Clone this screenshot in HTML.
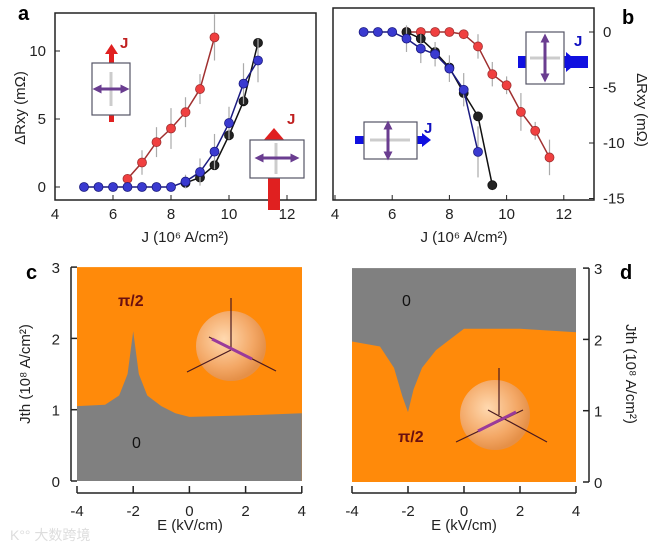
<!DOCTYPE html>
<html><head><meta charset="utf-8"><style>
body{margin:0;background:#fff;}
svg{display:block;font-family:"Liberation Sans","Noto Sans CJK SC",sans-serif;}
</style></head><body>
<svg id="fig" width="652" height="544" viewBox="0 0 652 544">
<defs>
<radialGradient id="sph" cx="0.4" cy="0.4" r="0.6">
<stop offset="0" stop-color="#ffd9b0"/><stop offset="0.7" stop-color="#f3a765"/><stop offset="1" stop-color="#e59048"/>
</radialGradient>
<marker id="ah" viewBox="0 0 10 10" refX="5" refY="5" markerWidth="3" markerHeight="3" orient="auto-start-reverse"><path d="M0,0 L10,5 L0,10z" fill="#6a3d90"/></marker>
</defs>
<g id="root"></g>
<text x="10" y="540" font-size="14" fill="#ddd">K°° 大数跨境</text>
</svg>
<script>
// ---- data ----
const aRedX=[6.5,7,7.5,8,8.5,9,9.5];
const aRedY=[0.6,1.8,3.3,4.3,5.5,7.2,11];
const aRedErr=[0.3,0.9,1.1,1.5,1.1,1.1,1.7];
const aBlueX=[5,5.5,6,6.5,7,7.5,8,8.5,9,9.5,10,10.5,11];
const aBlueY=[0,0,0,0,0,0,0,0.4,1.1,2.6,4.7,7.6,9.3];
const aBlueErr=[0,0,0,0,0,0,0,0.5,1,1.3,1.2,1.5,1.6];
const aBlackX=[8.5,9,9.5,10,10.5,11];
const aBlackY=[0.3,0.7,1.6,3.8,6.3,10.6];
const bBlueX=[5,5.5,6,6.5,7,7.5,8,8.5,9];
const bBlueY=[0,0,0,-0.6,-1.5,-2,-3.3,-5.2,-10.8];
const bBlueErr=[0,0,0,1.2,1.3,1.1,1.2,1.5,2.3];
const bBlackX=[6.5,7,7.5,8,8.5,9,9.5];
const bBlackY=[0,-0.6,-1.8,-3.2,-5.5,-7.6,-13.8];
const bRedX=[6.5,7,7.5,8,8.5,9,9.5,10,10.5,11,11.5];
const bRedY=[0,0,0,0,-0.2,-1.3,-3.8,-4.8,-7.2,-8.9,-11.3];
const bRedErr=[0.5,0,0,0,0.3,1.1,1.1,0.8,1.7,0.8,1.6];
const cE=[-4,-3,-2.5,-2.2,-2,-1.8,-1.5,-1,-0.5,0,2,4];
const cJ=[1.05,1.07,1.2,1.5,2.1,1.5,1.2,1.05,0.95,0.9,0.92,0.95];
const dE=[-4,-3,-2.5,-2.2,-2,-1.8,-1.5,-1,-0.5,0,2,4];
const dJ=[1.97,1.9,1.6,1.2,0.98,1.3,1.6,1.85,2.0,2.15,2.15,2.1];
const aXTicks=[4,6,8,10,12], aYTicks=[0,5,10];
const bXTicks=[4,6,8,10,12], bYTicks=[0,-5,-10,-15];
const cdXTicks=[-4,-2,0,2,4], cdYTicks=[0,1,2,3];

const NS="http://www.w3.org/2000/svg";
const root=document.getElementById('root');
function el(tag,attrs,parent,txt){const e=document.createElementNS(NS,tag);for(const k in attrs)e.setAttribute(k,attrs[k]);if(txt!==undefined)e.textContent=txt;(parent||root).appendChild(e);return e;}

const ax=x=>55+(x-4)*29, ay=y=>187-y*13.6;
const bx=x=>335+(x-4)*28.6, by=y=>32-y*11.1;
const cx=x=>77+(x+4)*28.1, cy=y=>481-y*71.3;
const dx=x=>352+(x+4)*28, dy=y=>482-y*71.3;

// ---- panel a ----
let g=el('g',{});

el('rect',{x:55,y:13,width:261,height:187,fill:'none',stroke:'#222','stroke-width':1.5},g);
aXTicks.forEach(t=>{el('line',{x1:ax(t),x2:ax(t),y1:200,y2:195,stroke:'#222'},g);el('text',{x:ax(t),y:219,'font-size':15,'text-anchor':'middle',fill:'#222'},g,t);});
aYTicks.forEach(t=>{el('line',{x1:55,x2:60,y1:ay(t),y2:ay(t),stroke:'#222'},g);el('text',{x:46,y:ay(t)+5,'font-size':15,'text-anchor':'end',fill:'#222'},g,t);});
el('text',{x:18,y:20,'font-size':20,'font-weight':'bold'},g,'a');
el('text',{x:185,y:242,'font-size':15,'text-anchor':'middle',fill:'#222'},g,'J (10⁶ A/cm²)');
el('text',{transform:'translate(25,108) rotate(-90)','font-size':15,'text-anchor':'middle',fill:'#222'},g,'ΔRxy (mΩ)');
function series(xs,ys,errs,X,Y,col,dark,parent,name){
  const sg=el('g',{},parent);
  
  if(errs)xs.forEach((x,i)=>{if(errs[i])el('line',{x1:X(x),x2:X(x),y1:Y(ys[i]-errs[i]),y2:Y(ys[i]+errs[i]),stroke:'#aaa','stroke-width':1.2},sg);});
  el('polyline',{points:xs.map((x,i)=>X(x)+','+Y(ys[i])).join(' '),fill:'none',stroke:dark,'stroke-width':1.5},sg);
  xs.forEach((x,i)=>el('circle',{cx:X(x),cy:Y(ys[i]),r:4.5,fill:col,stroke:dark,'stroke-width':0.8},sg));
}
series(aRedX,aRedY,aRedErr,ax,ay,'#f04040','#a03030',g,'series-a-red');
series(aBlackX,aBlackY,null,ax,ay,'#222','#111',g,'series-a-black');
series(aBlueX,aBlueY,aBlueErr,ax,ay,'#3a3ad0','#1a1a80',g,'series-a-blue');
el('rect',{x:109,y:50,width:5,height:72,fill:'#e02020'},g);
el('path',{d:'M105,54 L111.5,44 L118,54z',fill:'#e02020'},g);
el('rect',{x:92,y:63,width:38,height:52,fill:'#fff',stroke:'#556','stroke-width':1.2},g);
el('line',{x1:111,x2:111,y1:72,y2:106,stroke:'#ccc','stroke-width':3},g);
el('line',{x1:97,x2:125,y1:89,y2:89,stroke:'#6a3d90','stroke-width':3,'marker-start':'url(#ah)','marker-end':'url(#ah)'},g);
el('text',{x:120,y:48,'font-size':15,fill:'#c02020','font-weight':'bold'},g,'J');
el('rect',{x:268,y:140,width:12,height:70,fill:'#e02020'},g);
el('path',{d:'M262,142 L274,128 L286,142z',fill:'#e02020'},g);
el('rect',{x:250,y:140,width:54,height:38,fill:'#fff',stroke:'#556','stroke-width':1.2},g);
el('line',{x1:276,x2:276,y1:143,y2:174,stroke:'#ccc','stroke-width':3},g);
el('line',{x1:259,x2:295,y1:158,y2:158,stroke:'#6a3d90','stroke-width':3,'marker-start':'url(#ah)','marker-end':'url(#ah)'},g);
el('text',{x:287,y:124,'font-size':15,fill:'#c02020','font-weight':'bold'},g,'J');

// ---- panel b ----
g=el('g',{});

el('rect',{x:333,y:8,width:261,height:192,fill:'none',stroke:'#222','stroke-width':1.5},g);
bXTicks.forEach(t=>{el('line',{x1:bx(t),x2:bx(t),y1:200,y2:195,stroke:'#222'},g);el('text',{x:bx(t),y:219,'font-size':15,'text-anchor':'middle',fill:'#222'},g,t);});
bYTicks.forEach(t=>{el('line',{x1:589,x2:594,y1:by(t),y2:by(t),stroke:'#222'},g);el('text',{x:603,y:by(t)+5,'font-size':15,fill:'#222'},g,t);});
el('text',{x:622,y:24,'font-size':20,'font-weight':'bold'},g,'b');
el('text',{x:464,y:242,'font-size':15,'text-anchor':'middle',fill:'#222'},g,'J (10⁶ A/cm²)');
el('text',{transform:'translate(637,110) rotate(90)','font-size':15,'text-anchor':'middle',fill:'#222'},g,'ΔRxy (mΩ)');
series(bRedX,bRedY,bRedErr,bx,by,'#f04040','#a03030',g,'series-b-red');
series(bBlackX,bBlackY,null,bx,by,'#222','#111',g,'series-b-black');
series(bBlueX,bBlueY,bBlueErr,bx,by,'#3a3ad0','#1a1a80',g,'series-b-blue');
el('rect',{x:518,y:56,width:70,height:12,fill:'#1010e0'},g);
el('path',{d:'M566,52 L578,62 L566,72z',fill:'#1010e0'},g);
el('rect',{x:526,y:32,width:38,height:52,fill:'#fff',stroke:'#556','stroke-width':1.2},g);
el('line',{x1:530,x2:560,y1:58,y2:58,stroke:'#ccc','stroke-width':3},g);
el('line',{x1:545,x2:545,y1:38,y2:78,stroke:'#6a3d90','stroke-width':3,'marker-start':'url(#ah)','marker-end':'url(#ah)'},g);
el('text',{x:574,y:46,'font-size':15,fill:'#1010c0','font-weight':'bold'},g,'J');
el('rect',{x:355,y:136,width:70,height:8,fill:'#1010e0'},g);
el('path',{d:'M422,133 L431,140 L422,147z',fill:'#1010e0'},g);
el('rect',{x:364,y:122,width:53,height:37,fill:'#fff',stroke:'#556','stroke-width':1.2},g);
el('line',{x1:370,x2:410,y1:140,y2:140,stroke:'#ccc','stroke-width':3},g);
el('line',{x1:388,x2:388,y1:125,y2:156,stroke:'#6a3d90','stroke-width':3,'marker-start':'url(#ah)','marker-end':'url(#ah)'},g);
el('text',{x:424,y:133,'font-size':15,fill:'#1010c0','font-weight':'bold'},g,'J');

// ---- panel c ----
g=el('g',{});

el('rect',{x:77,y:cy(3),width:225,height:cy(0)-cy(3),fill:'#ff8a0a'},g);
let cp='M'+cx(-4)+','+cy(0)+' '+cE.map((e,i)=>'L'+cx(e)+','+cy(cJ[i])).join(' ')+' L'+cx(4)+','+cy(0)+'Z';
el('path',{d:cp,fill:'#808080'},g);
el('line',{x1:71,x2:71,y1:cy(3),y2:cy(0),stroke:'#222','stroke-width':1.5},g);
cdYTicks.forEach(t=>{el('line',{x1:71,x2:77,y1:cy(t),y2:cy(t),stroke:'#222','stroke-width':1.5},g);el('text',{x:60,y:cy(t)+6,'font-size':15,'text-anchor':'end',fill:'#222'},g,t);});
el('line',{x1:77,x2:302,y1:493,y2:493,stroke:'#222','stroke-width':1.5},g);
cdXTicks.forEach(t=>{el('line',{x1:cx(t),x2:cx(t),y1:486,y2:493,stroke:'#222','stroke-width':1.5},g);el('text',{x:cx(t),y:516,'font-size':15,'text-anchor':'middle',fill:'#222'},g,t);});
el('text',{x:26,y:279,'font-size':20,'font-weight':'bold'},g,'c');
el('text',{x:190,y:530,'font-size':15,'text-anchor':'middle',fill:'#222'},g,'E (kV/cm)');
el('text',{transform:'translate(30,374) rotate(-90)','font-size':15,'text-anchor':'middle',fill:'#222'},g,'Jth (10⁸ A/cm²)');
el('text',{x:118,y:306,'font-size':16,'font-weight':'bold',fill:'#6a1010'},g,'π/2');
el('text',{x:132,y:448,'font-size':16,fill:'#111'},g,'0');
el('circle',{cx:231,cy:346,r:35,fill:'url(#sph)'},g);
el('line',{x1:231,x2:231,y1:350,y2:298,stroke:'#4a1a20','stroke-width':1.2},g);
el('line',{x1:231,x2:187,y1:350,y2:372,stroke:'#4a1a20','stroke-width':1.2},g);
el('line',{x1:209,x2:276,y1:337,y2:371,stroke:'#4a1a20','stroke-width':1.2},g);
el('line',{x1:212,x2:252,y1:339,y2:359,stroke:'#9a3a9a','stroke-width':3},g);

// ---- panel d ----
g=el('g',{});

el('rect',{x:352,y:dy(3),width:224,height:dy(0)-dy(3),fill:'#808080'},g);
let dp='M'+dx(-4)+','+dy(0)+' '+dE.map((e,i)=>'L'+dx(e)+','+dy(dJ[i])).join(' ')+' L'+dx(4)+','+dy(0)+'Z';
el('path',{d:dp,fill:'#ff8a0a'},g);
el('line',{x1:589,x2:589,y1:dy(3),y2:dy(0),stroke:'#222','stroke-width':1.5},g);
cdYTicks.forEach(t=>{el('line',{x1:583,x2:589,y1:dy(t),y2:dy(t),stroke:'#222','stroke-width':1.5},g);el('text',{x:594,y:dy(t)+6,'font-size':15,fill:'#222'},g,t);});
el('line',{x1:352,x2:576,y1:493,y2:493,stroke:'#222','stroke-width':1.5},g);
cdXTicks.forEach(t=>{el('line',{x1:dx(t),x2:dx(t),y1:486,y2:493,stroke:'#222','stroke-width':1.5},g);el('text',{x:dx(t),y:516,'font-size':15,'text-anchor':'middle',fill:'#222'},g,t);});
el('text',{x:620,y:279,'font-size':20,'font-weight':'bold'},g,'d');
el('text',{x:464,y:530,'font-size':15,'text-anchor':'middle',fill:'#222'},g,'E (kV/cm)');
el('text',{transform:'translate(626,374) rotate(90)','font-size':15,'text-anchor':'middle',fill:'#222'},g,'Jth (10⁸ A/cm²)');
el('text',{x:398,y:442,'font-size':16,'font-weight':'bold',fill:'#6a1010'},g,'π/2');
el('text',{x:402,y:306,'font-size':16,fill:'#111'},g,'0');
el('circle',{cx:495,cy:415,r:35,fill:'url(#sph)'},g);
el('line',{x1:499,x2:499,y1:415,y2:368,stroke:'#4a1a20','stroke-width':1.2},g);
el('line',{x1:488,x2:547,y1:410,y2:442,stroke:'#4a1a20','stroke-width':1.2},g);
el('line',{x1:456,x2:523,y1:442,y2:410,stroke:'#4a1a20','stroke-width':1.2},g);
el('line',{x1:478,x2:516,y1:431,y2:412,stroke:'#9a3a9a','stroke-width':3},g);
</script>
</body></html>
